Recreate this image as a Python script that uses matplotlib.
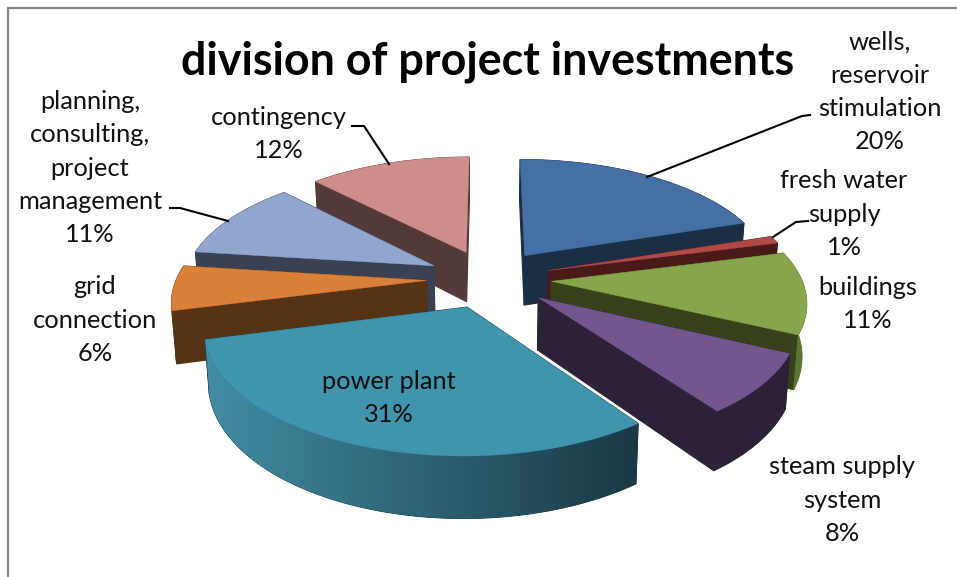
import numpy as np
import matplotlib
matplotlib.use("Agg")
import matplotlib.pyplot as plt
from matplotlib.patches import Polygon
from matplotlib.colors import to_rgb

# Data
NAMES = ["wells,\nreservoir\nstimulation", "fresh water\nsupply", "buildings",
         "steam supply\nsystem", "power plant", "grid\nconnection",
         "planning,\nconsulting,\nproject\nmanagement", "contingency"]
VALUES = [20, 1, 11, 8, 31, 6, 10.7, 12.3]

TOP = ["#4470A6", "#B04A48", "#87A54B", "#71578E", "#4094AE", "#D9803A", "#91A6CE", "#CE8D8B"]
CUT = ["#1B2E45", "#4A1A18", "#37421D", "#2C2137", "#1B3C48", "#573316", "#3A4152", "#533A3A"]
WALL_LEFT = ["#1B2E45", "#4A1A18", "#4F6A2A", "#2C2137", "#418DA5", "#573316", "#3A4152", "#533A3A"]
WALL_RIGHT = ["#1B2E45", "#4A1A18", "#5F7A32", "#2C2137", "#1A3843", "#573316", "#3A4152", "#533A3A"]

# Projection of the pie (fitted by eye)
CX, CY = 489, 278.6
RX, RY = 250, 117
PERSP = 0.15
EXPLODE = 0.25
HEIGHT = 51
BOTTOM_X = 0.985


def project(u, v, bottom=False):
    s = 1 / (1 - PERSP * v)
    x = RX * u * s
    y = CY + RY * v * s
    if bottom:
        return CX + x * BOTTOM_X, y + HEIGHT * s
    return CX + x, y


fig = plt.figure(figsize=(9.57, 5.77), dpi=100)
ax = fig.add_axes([0, 0, 1, 1])
ax.axis("off")

# Frame
ax.plot([8, 8, 957], [577, 8, 8], color="#858585", lw=1.6, solid_joinstyle="miter")

edges = np.concatenate([[0], np.cumsum(VALUES)]) / sum(VALUES) * 2 * np.pi
slices = []
for i in range(len(VALUES)):
    a0, a1 = edges[i], edges[i + 1]
    mid = (a0 + a1) / 2
    u0, v0 = EXPLODE * np.sin(mid), -EXPLODE * np.cos(mid)
    t = np.linspace(a0, a1, 80)
    slices.append((project(u0, v0)[1], i, u0, v0, t))

# Back to front
z = 2
for _, i, u0, v0, t in sorted(slices, key=lambda s: s[0]):
    us = u0 + np.sin(t)
    vs = v0 - np.cos(t)
    tx, ty = project(us, vs)
    bx, by = project(us, vs, bottom=True)
    px, py = project(u0, v0)
    qx, qy = project(u0, v0, bottom=True)

    # Cut faces
    for j in (0, -1):
        ax.fill([px, tx[j], bx[j], qx], [py, ty[j], by[j], qy], color=CUT[i], lw=0.8, zorder=z)
    z += 1

    # Outer wall with a left-right gradient
    wall_xy = np.c_[np.r_[tx, bx[::-1]], np.r_[ty, by[::-1]]]
    wall = Polygon(wall_xy, closed=True, fc=WALL_RIGHT[i], ec=WALL_RIGHT[i], lw=0.6, zorder=z)
    ax.add_patch(wall)
    grad = np.linspace(0, 1, 256)[None, :, None]
    img = (1 - grad) * np.array(to_rgb(WALL_LEFT[i])) + grad * np.array(to_rgb(WALL_RIGHT[i]))
    im = ax.imshow(img, extent=[wall_xy[:, 0].min(), wall_xy[:, 0].max(),
                                wall_xy[:, 1].max(), wall_xy[:, 1].min()],
                   aspect="auto", interpolation="bilinear", zorder=z + 0.5)
    im.set_clip_path(wall)
    z += 1

    ax.fill(np.r_[px, tx], np.r_[py, ty], color=TOP[i], lw=0.3, zorder=z)
    z += 1

# Labels
FONT = ["Lato", "DejaVu Sans"]
LABEL_POS = [(880, 92), (844, 214), (868, 304), (842, 500), (389, 398), (95, 320), (90, 168), (279, 134)]
for name, val, (x, y) in zip(NAMES, VALUES, LABEL_POS):
    ax.text(x, y, f"{name}\n{val:.0f}%", ha="center", va="center", fontsize=18.3, family=FONT,
            color="#111111", linespacing=1.53, zorder=100)

ax.text(488, 62, "division of project investments", ha="center", va="center",
        fontsize=32.3, fontweight="bold", family=FONT, color="black", zorder=100)

# Leader lines
LEADERS = [([810, 802, 647], [115, 116, 177]),
           ([808, 796, 773], [221, 222, 237]),
           ([170, 180, 228], [208, 208, 221]),
           ([352, 364, 389], [126, 126, 164])]
for xs, ys in LEADERS:
    ax.plot(xs, ys, color="black", lw=1.5, zorder=90)

ax.set_xlim(0, 957)
ax.set_ylim(577, 0)
fig.savefig("out.png", dpi=100)
